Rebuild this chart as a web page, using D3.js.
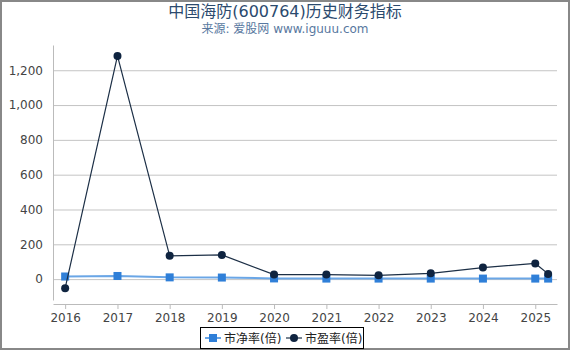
<!DOCTYPE html>
<html>
<head>
<meta charset="utf-8">
<script src="https://cdn.jsdelivr.net/npm/d3@7.9.0/dist/d3.min.js"></script>
<style>
  body { margin: 0; background: #fff; }
  svg { display: block; font-family: "DejaVu Sans", "Noto Sans CJK SC", sans-serif; }
</style>
</head>
<body>
<svg id="chart" width="570" height="350"></svg>
<script>
// data
const dates = ['2016-01-01', '2017-01-01', '2018-01-01', '2019-01-01', '2020-01-01',
  '2021-01-01', '2022-01-01', '2023-01-01', '2024-01-01', '2025-01-01', '2025-04-01'];
const pbValues = [15, 18, 10, 9, 4, 3, 3, 3, 3, 3, 3];
const peValues = [-52, 1282, 134, 139, 26, 26, 22, 33, 66, 90, 30];
const yTicks = [0, 200, 400, 600, 800, 1000, 1200];
const xTickYears = [2016, 2017, 2018, 2019, 2020, 2021, 2022, 2023, 2024, 2025];
const seriesNames = ['市净率(倍)', '市盈率(倍)'];

const width = 570;
const height = 350;
const svg = d3.select('#chart');

const parse = d3.timeParse('%Y-%m-%d');
const pb = dates.map((d, i) => ({ date: parse(d), value: pbValues[i] }));
const pe = dates.map((d, i) => ({ date: parse(d), value: peValues[i] }));

const plot = { left: 53, right: 557, top: 45, bottom: 300 };

const xScale = d3.scaleTime()
  .domain([new Date(2015, 9, 8), new Date(2025, 5, 2)])
  .range([plot.left, plot.right]);

const yScale = d3.scaleLinear()
  .domain([-120, 1345])
  .range([plot.bottom, plot.top]);

// outer frame
svg.append('rect')
  .attr('x', 1).attr('y', 1)
  .attr('width', width - 2).attr('height', height - 2)
  .attr('fill', 'none').attr('stroke', '#888').attr('stroke-width', 2);

// title
svg.append('text')
  .attr('x', 285).attr('y', 17)
  .attr('text-anchor', 'middle')
  .attr('font-size', 16)
  .attr('fill', '#2b4a6e')
  .text('中国海防(600764)历史财务指标');

svg.append('text')
  .attr('x', 285).attr('y', 33)
  .attr('text-anchor', 'middle')
  .attr('font-size', 12)
  .attr('fill', '#5878a0')
  .text('来源: 爱股网 www.iguuu.com');

// gridlines
const grid = svg.append('g')
  .attr('transform', `translate(${plot.left}, 0)`)
  .call(d3.axisLeft(yScale).tickValues(yTicks).tickFormat('').tickSize(-(plot.right - plot.left)));
grid.select('.domain').remove();
grid.selectAll('line').attr('stroke', '#c4c4c4');

// y axis
const yAxis = svg.append('g')
  .attr('transform', `translate(${plot.left}, 0)`)
  .call(d3.axisLeft(yScale).tickValues(yTicks).tickFormat(d3.format(',')).tickSize(0).tickPadding(10));
yAxis.select('.domain').attr('stroke', '#bbb');
yAxis.selectAll('text').attr('font-size', 12).attr('fill', '#444')
  .attr('font-family', '"DejaVu Sans", sans-serif');

// x axis
const xAxis = svg.append('g')
  .attr('transform', `translate(0, 304)`)
  .call(d3.axisBottom(xScale)
    .tickValues(xTickYears.map(y => new Date(y, 0, 1)))
    .tickFormat(d3.timeFormat('%Y'))
    .tickSize(5).tickSizeOuter(0).tickPadding(4));
xAxis.select('.domain').attr('stroke', '#bbb');
xAxis.selectAll('line').attr('stroke', '#bbb');
xAxis.selectAll('text').attr('font-size', 12).attr('fill', '#444')
  .attr('font-family', '"DejaVu Sans", sans-serif');

const line = d3.line()
  .x(d => xScale(d.date))
  .y(d => yScale(d.value));

// PB series
svg.append('path')
  .datum(pb)
  .attr('d', line)
  .attr('fill', 'none')
  .attr('stroke', '#6aa6e6')
  .attr('stroke-width', 2);

svg.append('g')
  .selectAll('rect')
  .data(pb)
  .join('rect')
  .attr('x', d => xScale(d.date) - 4)
  .attr('y', d => yScale(d.value) - 4)
  .attr('width', 8).attr('height', 8)
  .attr('fill', '#2f7fd8');

// PE series
svg.append('path')
  .datum(pe)
  .attr('d', line)
  .attr('fill', 'none')
  .attr('stroke', '#1c2f46')
  .attr('stroke-width', 1.2);

svg.append('g')
  .selectAll('circle')
  .data(pe)
  .join('circle')
  .attr('cx', d => xScale(d.date))
  .attr('cy', d => yScale(d.value))
  .attr('r', 4)
  .attr('fill', '#0f2440');

// legend
const legend = svg.append('g');
legend.append('rect')
  .attr('x', 200.5).attr('y', 327.5)
  .attr('width', 163).attr('height', 21)
  .attr('fill', '#fff').attr('stroke', '#000');

const items = legend.selectAll('g')
  .data(seriesNames)
  .join('g')
  .attr('transform', (d, i) => `translate(${205 + i * 81}, 338)`);

items.append('line')
  .attr('x1', 0).attr('x2', 16)
  .attr('stroke', (d, i) => i === 0 ? '#6aa6e6' : '#1c2f46')
  .attr('stroke-width', (d, i) => i === 0 ? 2 : 1.2);

items.filter((d, i) => i === 0).append('rect')
  .attr('x', 4).attr('y', -4).attr('width', 8).attr('height', 8)
  .attr('fill', '#2f7fd8');

items.filter((d, i) => i === 1).append('circle')
  .attr('cx', 8).attr('r', 4).attr('fill', '#0f2440');

items.append('text')
  .attr('x', 19).attr('y', 4.5)
  .attr('font-size', 12)
  .attr('fill', '#222')
  .text(d => d);
</script>
</body>
</html>
